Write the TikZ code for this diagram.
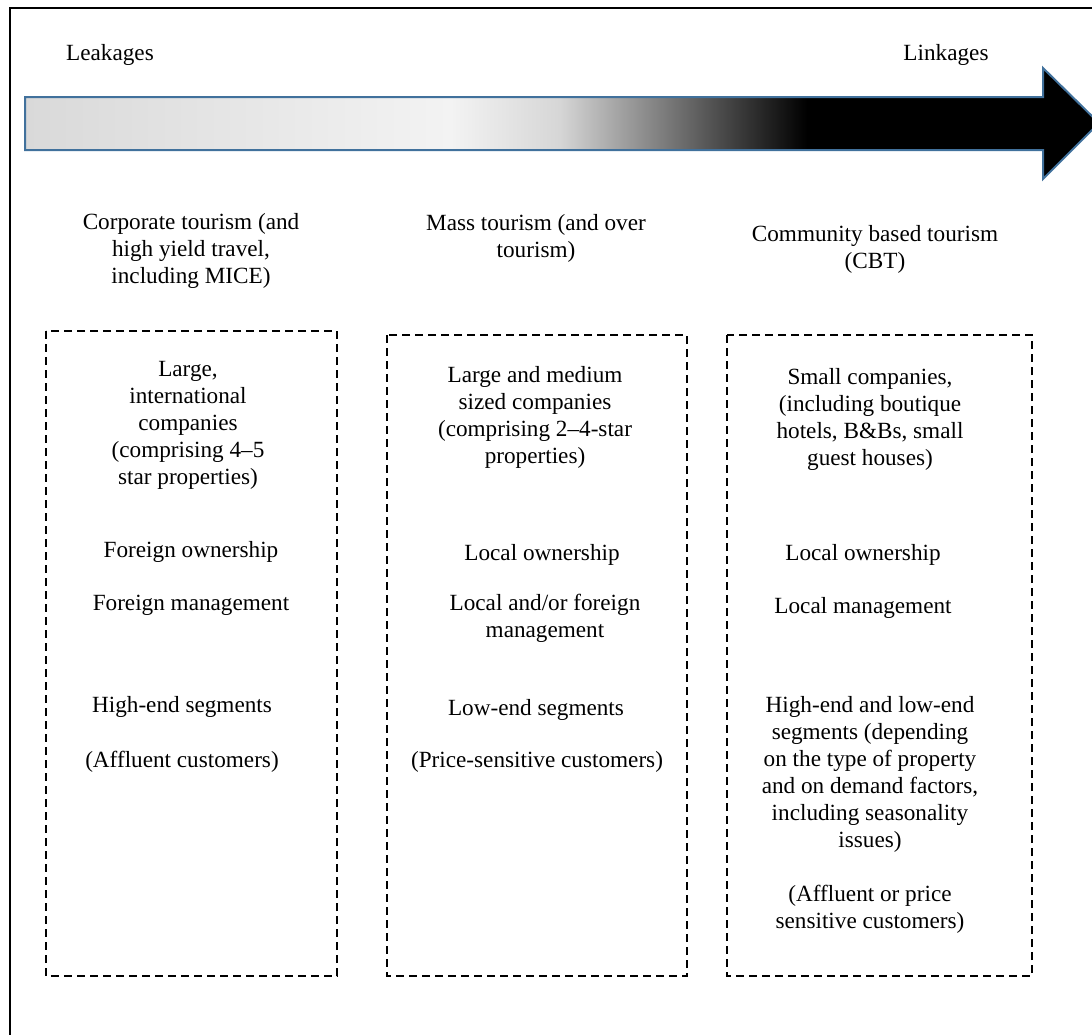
\documentclass[tikz,border=0pt]{standalone}
\usepackage{fontspec}
\setmainfont{Liberation Serif}
\usepackage{tikz}
\usetikzlibrary{positioning}
\definecolor{flowedge}{HTML}{41719C}
\definecolor{shadeA}{HTML}{D9D9D9}
\definecolor{shadeB}{HTML}{F3F3F3}
\definecolor{shadeC}{HTML}{D6D6D6}
\pgfdeclarehorizontalshading{leakshade}{100bp}{color(0bp)=(shadeA); color(25bp)=(shadeA); color(44.8bp)=(shadeB); color(49.9bp)=(shadeC); color(61.4bp)=(black); color(100bp)=(black)}
\begin{document}
\begin{tikzpicture}[x=0.5pt, y=-0.5pt,
  txt/.style={align=center, inner sep=0pt, yshift=-1pt, font=\fontsize{11.6pt}{13.5pt}\selectfont},
  grp/.style={draw=black, line width=1.2pt, dash pattern=on 4pt off 2.5pt},
  flow/.style={draw=flowedge, line width=1pt, shade, shading=leakshade},
  frame/.style={draw=black, line width=0.8pt},
]
\useasboundingbox (0,0) rectangle (1092,1034);
\draw[frame] (10,1040) -- (10,8) -- (1100,8);
\path[flow] (25,97) -- (1043,97) -- (1043,68) -- (1099,123) -- (1043,179) -- (1043,150) -- (25,150) -- cycle;
\node[txt] (leak) at (110,53) {Leakages};
\node[txt] (link) at (946,53) {Linkages};
% column headings
\node[txt] (corp) at (191,249) {Corporate tourism (and\\high yield travel,\\including MICE)};
\node[txt] (mass) at (536,236.5) {Mass tourism (and over\\tourism)};
\node[txt] (cbt) at (875,247.5) {Community based tourism\\(CBT)};
% dashed boxes
\draw[grp] (46,331) rectangle (337,976);
\draw[grp] (387,335) rectangle (687,976);
\draw[grp] (727,335) rectangle (1032,976);
% corporate
\node[txt] (corpsize) at (188,423.5) {Large,\\international\\companies\\(comprising 4--5\\star properties)};
\node[txt] (corpown) at (191,550) {Foreign ownership};
\node[txt] (corpman) at (191,603) {Foreign management};
\node[txt] (corpseg) at (182,705) {High-end segments};
\node[txt] (corpcus) at (182,760) {(Affluent customers)};
% mass
\node[txt] (masssize) at (535,415) {Large and medium\\sized companies\\(comprising 2--4-star\\properties)};
\node[txt] (massown) at (542,553) {Local ownership};
\node[txt] (massman) at (545,616) {Local and/or foreign\\management};
\node[txt] (massseg) at (536,708) {Low-end segments};
\node[txt] (masscus) at (537,760) {(Price-sensitive customers)};
% community based
\node[txt] (cbtsize) at (870,417) {Small companies,\\(including boutique\\hotels, B\&Bs, small\\guest houses)};
\node[txt] (cbtown) at (863,553) {Local ownership};
\node[txt] (cbtman) at (863,606) {Local management};
\node[txt] (cbtseg) at (870,772.5) {High-end and low-end\\segments (depending\\on the type of property\\and on demand factors,\\including seasonality\\issues)};
\node[txt] (cbtcus) at (870,907) {(Affluent or price\\sensitive customers)};
\end{tikzpicture}
\end{document}
